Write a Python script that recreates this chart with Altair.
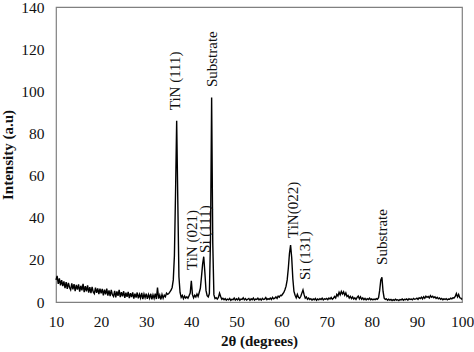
import altair as alt
import pandas as pd

# XRD scan: 2-theta from 10 to 100 degrees, step 0.25
start_2theta = 10.0
step_2theta = 0.25

intensity = [
    # 10 - 15
    10.5, 12.4, 8.6, 11.2, 7.9, 10.4, 7.5, 9.8, 6.6, 9.4, 6.2, 9.1, 6.9, 5.8, 8.8, 6.0, 8.5, 5.2, 8.1, 5.9,
    # 15 - 20
    8.4, 4.9, 7.7, 5.5, 8.6, 4.7, 7.5, 5.0, 7.9, 4.5, 7.0, 4.2, 7.2, 4.8, 4.0, 6.8, 4.3, 6.5, 3.8, 6.3,
    # 20 - 25
    4.1, 6.2, 3.2, 5.9, 3.6, 6.3, 3.0, 5.5, 2.8, 5.7, 3.4, 2.6, 5.3, 2.2, 5.0, 2.9, 5.8, 2.3, 4.7, 2.7,
    # 25 - 30
    5.1, 2.0, 4.4, 2.5, 4.8, 1.8, 4.2, 2.3, 4.6, 1.6, 4.0, 2.1, 4.5, 1.7, 3.7, 1.9, 4.3, 1.4, 3.8, 2.0,
    # 30 - 35
    4.0, 1.5, 3.5, 1.8, 3.9, 1.3, 3.4, 1.7, 4.0, 1.4, 6.8, 1.6, 3.3, 1.2, 3.6, 1.8, 3.2, 2.5, 4.2, 3.6,
    # 35 - 40  (TiN 111)
    4.0, 4.8, 5.6, 6.9, 10.5, 22.0, 52.0, 86.0, 48.0, 12.0, 4.5, 2.2, 3.1, 1.6, 2.8, 1.9, 2.5, 1.8, 3.0, 4.2,
    # 40 - 45  (TiN 021, Si 111, substrate)
    10.0, 3.5, 2.0, 3.2, 2.4, 3.8, 2.6, 4.5, 6.5, 12.0, 18.0, 21.5, 14.0, 5.5, 3.0, 2.4, 4.0, 30.0, 97.0, 28.0,
    # 45 - 50
    3.5, 1.6, 2.0, 1.4, 2.2, 4.2, 2.6, 1.3, 1.8, 1.1, 1.6, 0.9, 1.4, 1.0, 1.7, 0.8, 1.3, 1.1, 1.9, 0.9,
    # 50 - 55
    1.5, 1.0, 1.8, 0.8, 1.4, 1.2, 2.0, 1.0, 1.6, 0.9, 1.3, 1.7, 0.8, 1.5, 1.1, 1.9, 0.9, 1.4, 1.2, 1.8,
    # 55 - 60
    1.0, 1.5, 0.9, 1.7, 1.2, 1.4, 2.1, 1.1, 1.6, 1.3, 1.9, 1.2, 2.2, 1.5, 1.8, 2.4, 1.7, 2.8, 2.3, 3.2,
    # 60 - 65  (TiN 022, Si 131)
    3.0, 3.8, 4.5, 5.8, 7.5, 10.5, 16.0, 23.0, 27.0, 21.0, 11.0, 5.0, 3.2, 2.0, 3.6, 2.2, 1.8, 2.6, 4.2, 5.7,
    # 65 - 70
    3.5, 1.8, 2.4, 1.3, 1.9, 1.2, 1.6, 0.9, 1.5, 1.1, 1.7, 0.8, 1.4, 1.0, 1.6, 1.2, 1.8, 1.0, 1.5, 1.3,
    # 70 - 75
    1.7, 1.1, 1.9, 1.4, 2.1, 1.3, 1.8, 2.6, 1.9, 3.6, 2.8, 4.6, 3.4, 5.0, 3.8, 4.8, 3.2, 4.3, 2.6, 3.1,
    # 75 - 80
    1.9, 2.7, 1.6, 2.4, 1.4, 2.0, 1.2, 2.2, 2.8, 1.5, 2.5, 1.3, 1.9, 1.1, 1.7, 1.0, 1.6, 1.2, 1.8, 1.1,
    # 80 - 85  (substrate)
    1.5, 1.0, 1.4, 1.1, 1.6, 1.3, 2.0, 5.5, 10.5, 11.7, 5.0, 1.8, 1.2, 1.5, 0.8, 1.3, 0.9, 1.2, 0.7, 1.1,
    # 85 - 90
    0.8, 1.3, 0.9, 1.1, 0.7, 1.2, 1.0, 1.4, 0.8, 1.3, 1.1, 1.5, 0.9, 1.6, 1.2, 1.4, 1.0, 1.7, 1.3, 1.5,
    # 90 - 95
    1.8, 1.2, 2.0, 1.6, 2.3, 1.5, 2.5, 1.8, 2.8, 2.2, 2.6, 1.9, 3.0, 2.3, 2.7, 2.0, 2.5, 1.7, 2.2, 1.5,
    # 95 - 100
    1.9, 1.3, 1.7, 1.1, 1.5, 1.2, 1.6, 1.0, 1.4, 1.3, 1.8, 1.5, 2.0, 1.9, 2.6, 4.0, 2.4, 3.6, 2.0, 1.8, 1.2,
]

# Peak annotations
label_text = ["TiN (111)", "Substrate", "TiN (021)", "Si (111)", "TiN(022)", "Si (131)", "Substrate"]
label_2theta = [36.4, 44.6, 40.1, 43.0, 62.5, 65.2, 82.2]
label_intensity = [91.0, 102.0, 15.2, 23.3, 30.4, 10.4, 17.6]

x_ticks = [10, 20, 30, 40, 50, 60, 70, 80, 90, 100]
y_ticks = [0, 20, 40, 60, 80, 100, 120, 140]

two_theta = [round(start_2theta + step_2theta * i, 2) for i in range(len(intensity))]
scan = pd.DataFrame({"two_theta": two_theta, "intensity": intensity})
labels = pd.DataFrame({"text": label_text, "two_theta": label_2theta, "intensity": label_intensity})

FONT = "Liberation Serif"

x_enc = alt.X(
    "two_theta:Q",
    scale=alt.Scale(domain=[10, 100], nice=False),
    axis=alt.Axis(
        title="2θ (degrees)", values=x_ticks, grid=False, ticks=False, domain=False,
        labelFont=FONT, labelFontSize=15.5, labelColor="#111", labelPadding=12,
        labelFlush=False, labelOverlap=False,
        titleFont=FONT, titleFontSize=15, titleFontWeight="bold", titleColor="#111",
        titlePadding=4,
    ),
)
y_enc = alt.Y(
    "intensity:Q",
    scale=alt.Scale(domain=[0, 140], nice=False),
    axis=alt.Axis(
        title="Intensity (a.u)", values=y_ticks, grid=False, ticks=False, domain=False,
        labelFont=FONT, labelFontSize=15.5, labelColor="#111", labelPadding=12,
        labelFlush=False, labelOverlap=False,
        titleFont=FONT, titleFontSize=15, titleFontWeight="bold", titleColor="#111",
        titlePadding=5,
    ),
)

line = alt.Chart(scan).mark_line(color="black", strokeWidth=1.4, interpolate="linear").encode(
    x=x_enc, y=y_enc
)

text = alt.Chart(labels).mark_text(
    angle=270, align="left", baseline="middle", font=FONT, fontSize=15, color="#111"
).encode(
    x=alt.X("two_theta:Q"),
    y=alt.Y("intensity:Q"),
    text="text:N",
)

chart = (
    alt.layer(line, text)
    .properties(
        width=406,
        height=295,
        padding={"left": 56, "top": 7, "right": 12, "bottom": 50},
        autosize=alt.AutoSizeParams(type="none"),
        background="white",
    )
    .configure_view(stroke="#808080", strokeWidth=1.2)
)

chart.save("out.html", embed_options={"renderer": "svg", "actions": False})
